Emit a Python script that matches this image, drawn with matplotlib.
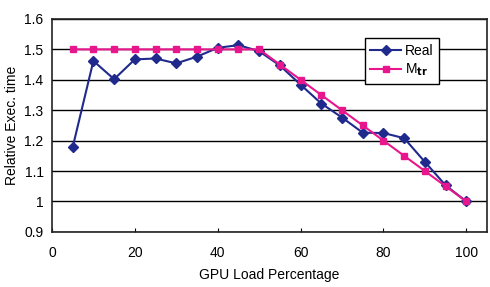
import matplotlib
matplotlib.use("Agg")
import matplotlib.pyplot as plt

plt.rcParams["font.family"] = ["Liberation Sans", "DejaVu Sans"]

# GPU load (%) and relative execution time
load = [5, 10, 15, 20, 25, 30, 35, 40, 45, 50,
        55, 60, 65, 70, 75, 80, 85, 90, 95, 100]
real = [1.178, 1.462, 1.402, 1.467, 1.470, 1.454, 1.476, 1.505, 1.514, 1.494,
        1.447, 1.384, 1.322, 1.276, 1.226, 1.225, 1.208, 1.130, 1.053, 1.000]
m_tr = [1.50, 1.50, 1.50, 1.50, 1.50, 1.50, 1.50, 1.50, 1.50, 1.50,
        1.45, 1.40, 1.35, 1.30, 1.25, 1.20, 1.15, 1.10, 1.05, 1.00]

x_ticks = [0, 20, 40, 60, 80, 100]
y_ticks = [0.9, 1.0, 1.1, 1.2, 1.3, 1.4, 1.5, 1.6]
y_labels = ["0.9", "1", "1.1", "1.2", "1.3", "1.4", "1.5", "1.6"]

fig = plt.figure(figsize=(4.9, 2.87), dpi=100)
ax = fig.add_axes([0.106, 0.192, 0.888, 0.742])

ax.plot(load, real, color="#1f2a8c", marker="D", markersize=5,
        linewidth=1.5, label="Real", zorder=3)
ax.plot(load, m_tr, color="#e8168c", marker="s", markersize=5,
        linewidth=1.5, label=r"M$_{\mathbf{tr}}$", zorder=3)

ax.set_xlim(0, 105)
ax.set_ylim(0.9, 1.6)
ax.set_xticks(x_ticks)
ax.set_yticks(y_ticks)
ax.set_yticklabels(y_labels)
ax.tick_params(axis="x", direction="in", length=3, width=0.8, pad=10,
               labelsize=10)
ax.tick_params(axis="y", length=0, pad=6, labelsize=10)
ax.yaxis.grid(True, color="black", linewidth=1.0)
ax.set_axisbelow(True)
for s in ax.spines.values():
    s.set_linewidth(1.2)
    s.set_color("#222222")

ax.set_xlabel("GPU Load Percentage", fontsize=10, labelpad=6)
ax.set_ylabel("Relative Exec. time", fontsize=10, labelpad=4)

leg = ax.legend(loc="upper right", bbox_to_anchor=(0.89, 0.91),
                frameon=True, fancybox=False, fontsize=10,
                handlelength=2.2, borderpad=0.4, labelspacing=0.3,
                handletextpad=0.3, borderaxespad=0)
leg.get_frame().set_edgecolor("black")
leg.get_frame().set_linewidth(1.0)
leg.get_frame().set_alpha(1)

fig.savefig("out.png", dpi=100)
